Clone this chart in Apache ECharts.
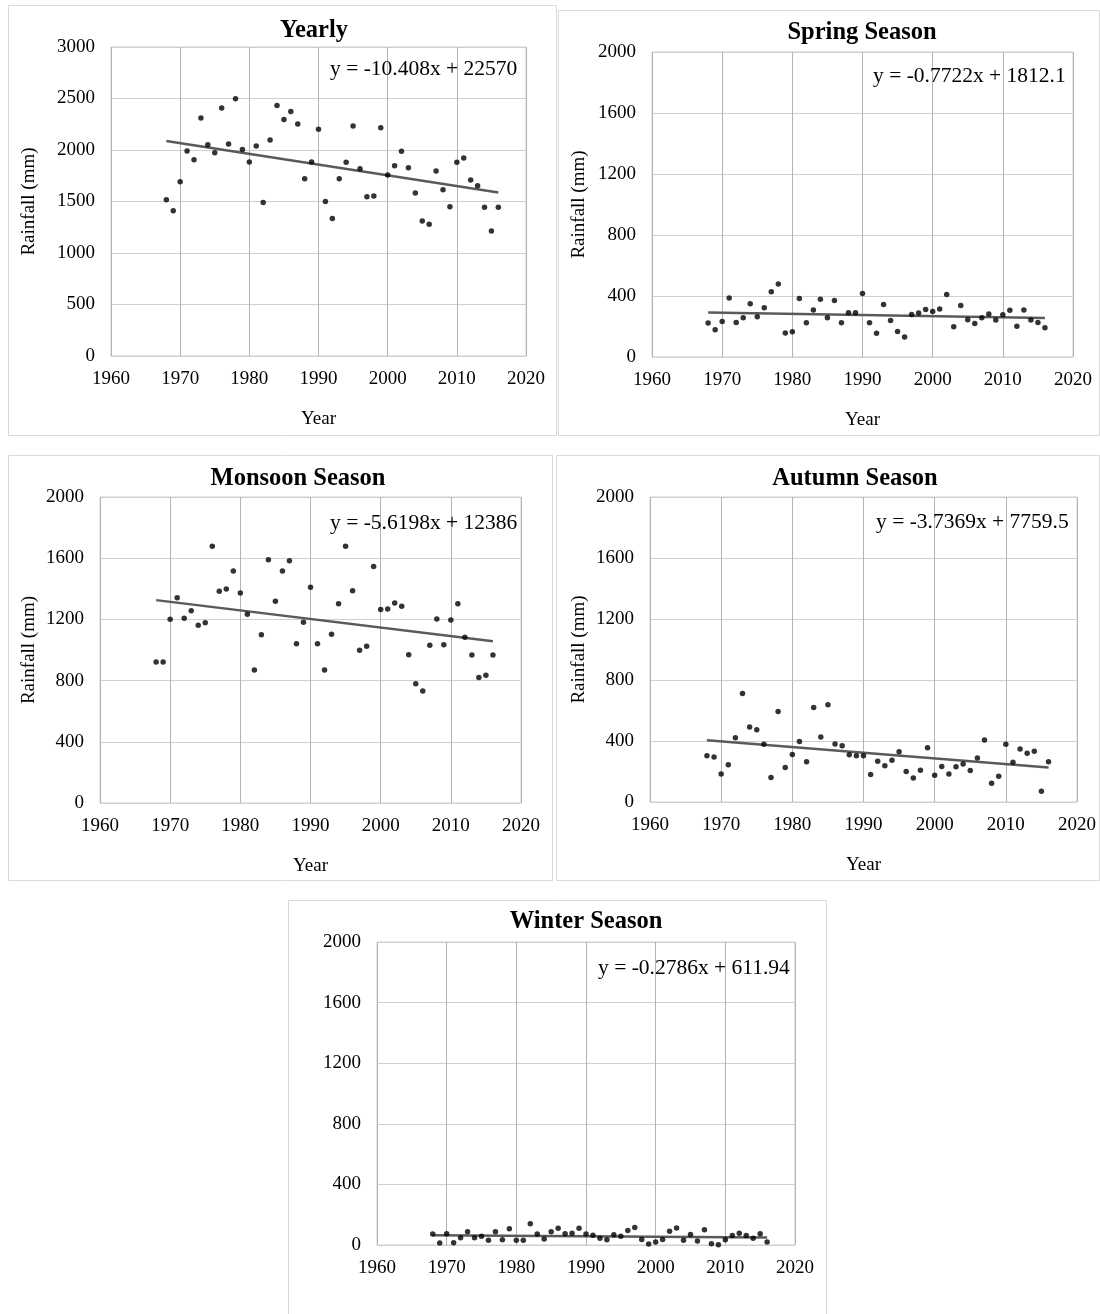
<!DOCTYPE html>
<html>
<head>
<meta charset="utf-8">
<title>Rainfall trends</title>
<script src="https://cdn.jsdelivr.net/npm/echarts@6/dist/echarts.min.js"></script>
<style>
  html, body { margin: 0; padding: 0; background: #fff; }
  #chart { width: 1100px; height: 1314px; }
</style>
</head>
<body>
<div id="chart"></div>
<script>
// data
var years = [1968, 1969, 1970, 1971, 1972, 1973, 1974, 1975, 1976, 1977,
  1978, 1979, 1980, 1981, 1982, 1983, 1984, 1985, 1986, 1987,
  1988, 1989, 1990, 1991, 1992, 1993, 1994, 1995, 1996, 1997,
  1998, 1999, 2000, 2001, 2002, 2003, 2004, 2005, 2006, 2007,
  2008, 2009, 2010, 2011, 2012, 2013, 2014, 2015, 2016];

var yearly = [1517, 1411, 1692, 1990, 1906, 2311, 2051, 1974, 2408, 2058,
  2498, 2006, 1883, 2039, 1491, 2097, 2433, 2297, 2375, 2252,
  1721, 1883, 2202, 1501, 1336, 1721, 1880, 2233, 1818, 1547,
  1553, 2216, 1757, 1847, 1987, 1828, 1582, 1310, 1278, 1796,
  1614, 1450, 1880, 1922, 1709, 1653, 1443, 1214, 1443];

var spring = [223, 179, 233, 387, 227, 258, 350, 264, 323, 428,
  479, 157, 166, 384, 225, 308, 378, 258, 371, 225,
  290, 290, 417, 225, 155, 345, 240, 168, 131, 279,
  288, 312, 299, 315, 410, 199, 338, 245, 220, 258,
  282, 243, 277, 306, 201, 308, 243, 227, 192];

var monsoon = [922, 922, 1201, 1342, 1207, 1257, 1161, 1178, 1678, 1384,
  1399, 1516, 1373, 1233, 869, 1100, 1590, 1318, 1516, 1584,
  1041, 1181, 1410, 1041, 869, 1103, 1303, 1678, 1388, 998,
  1024, 1545, 1264, 1268, 1307, 1286, 969, 780, 732, 1031,
  1203, 1035, 1196, 1303, 1083, 967, 821, 835, 967];

var autumn = [303, 295, 183, 244, 422, 712, 492, 473, 378, 161,
  593, 227, 312, 396, 264, 620, 427, 637, 380, 369,
  310, 303, 303, 180, 268, 237, 273, 330, 200, 158,
  209, 356, 176, 233, 183, 231, 249, 207, 288, 407,
  123, 169, 378, 260, 347, 319, 332, 71, 264];

var winter = [73, 13, 75, 15, 48, 88, 48, 57, 31, 88,
  35, 108, 31, 31, 141, 73, 40, 88, 110, 75,
  77, 110, 73, 64, 44, 35, 68, 57, 95, 115,
  37, 7, 20, 37, 90, 113, 31, 70, 26, 101,
  9, 2, 35, 62, 77, 62, 44, 75, 20];

// trend line ends at 1968 and 2016
var trendYears = [1968, 2016];
var yearlyTrend = [2087, 1588];
var springTrend = [292, 255];
var monsoonTrend = [1326, 1057];
var autumnTrend = [405, 226];
var winterTrend = [64, 50];

var titles = ['Yearly', 'Spring Season', 'Monsoon Season', 'Autumn Season', 'Winter Season'];
var equations = ['y = -10.408x + 22570', 'y = -0.7722x + 1812.1', 'y = -5.6198x + 12386',
  'y = -3.7369x + 7759.5', 'y = -0.2786x + 611.94'];
var yMax = [3000, 2000, 2000, 2000, 2000];
var yStep = [500, 400, 400, 400, 400];

// layout of the five panels (pixels)
var panels = [
  { box: [8, 5, 548, 430], grid: [111, 47, 415, 309], title: [314, 31], eq: [330, 69], names: true, yGap: 72 },
  { box: [558, 10, 541, 425], grid: [652, 52, 421, 305], title: [862, 33], eq: [873, 76], names: true, yGap: 63 },
  { box: [8, 455, 544, 425], grid: [100, 497, 421, 306], title: [298, 479], eq: [330, 523], names: true, yGap: 61 },
  { box: [556, 455, 543, 425], grid: [650, 497, 427, 305], title: [855, 479], eq: [876, 522], names: true, yGap: 61 },
  { box: [288, 900, 538, 420], grid: [377, 942, 418, 303], title: [586, 922], eq: [598, 968], names: false, yGap: 60 }
];

var seriesData = [yearly, spring, monsoon, autumn, winter];
var trendData = [yearlyTrend, springTrend, monsoonTrend, autumnTrend, winterTrend];

var font = 'Liberation Serif';
var plain = function (v) { return String(v); };
var chart = echarts.init(document.getElementById('chart'));

var grids = [], xAxes = [], yAxes = [], series = [], graphics = [];

panels.forEach(function (p, i) {
  graphics.push({
    type: 'rect',
    shape: { x: p.box[0] + 0.5, y: p.box[1] + 0.5, width: p.box[2], height: p.box[3] },
    style: { fill: 'none', stroke: '#d9d9d9', lineWidth: 1 },
    z: 0
  });
  graphics.push({
    type: 'text', x: p.title[0], y: p.title[1],
    style: { text: titles[i], font: 'bold 24.5px "Liberation Serif"', fill: '#000', align: 'center', verticalAlign: 'middle' }
  });
  graphics.push({
    type: 'text', x: p.eq[0], y: p.eq[1],
    style: { text: equations[i], font: '21.5px "Liberation Serif"', fill: '#000', align: 'left', verticalAlign: 'middle' },
    z: 10
  });

  grids.push({
    left: p.grid[0], top: p.grid[1], width: p.grid[2], height: p.grid[3],
    show: true, borderColor: '#d0d0d0', borderWidth: 1, backgroundColor: 'transparent'
  });

  xAxes.push({
    gridIndex: i, type: 'value', min: 1960, max: 2020, interval: 10,
    name: p.names ? 'Year' : '', nameLocation: 'middle', nameGap: 54,
    nameTextStyle: { fontFamily: font, fontSize: 19, color: '#000' },
    axisLine: { show: false }, axisTick: { show: false },
    axisLabel: { fontFamily: font, fontSize: 19, color: '#000', margin: 14, formatter: plain },
    splitLine: { show: true, lineStyle: { color: '#b4b4b4', width: 1 } }
  });

  yAxes.push({
    gridIndex: i, type: 'value', min: 0, max: yMax[i], interval: yStep[i],
    name: p.names ? 'Rainfall (mm)' : '', nameLocation: 'middle', nameGap: p.yGap,
    nameTextStyle: { fontFamily: font, fontSize: 19, color: '#000' },
    axisLine: { show: false }, axisTick: { show: false },
    axisLabel: { fontFamily: font, fontSize: 19, color: '#000', margin: 16, formatter: plain },
    splitLine: { show: true, lineStyle: { color: '#d0d0d0', width: 1 } }
  });

  series.push({
    type: 'scatter', xAxisIndex: i, yAxisIndex: i,
    data: years.map(function (y, k) { return [y, seriesData[i][k]]; }),
    symbolSize: 5.5, itemStyle: { color: '#000' }, z: 3
  });
  series.push({
    type: 'line', xAxisIndex: i, yAxisIndex: i,
    data: trendYears.map(function (y, k) { return [y, trendData[i][k]]; }),
    symbol: 'none', lineStyle: { color: '#5a5a5a', width: 2.5 }, z: 2
  });
});

chart.setOption({
  animation: false,
  grid: grids,
  xAxis: xAxes,
  yAxis: yAxes,
  series: series,
  graphic: graphics
});
</script>
</body>
</html>
